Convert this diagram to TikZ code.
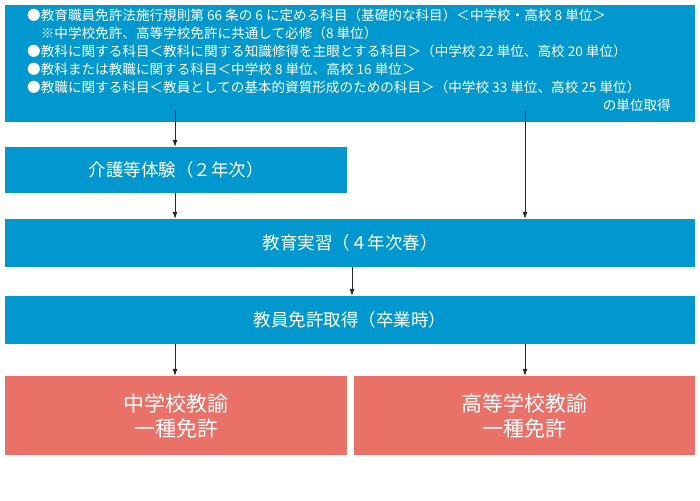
\documentclass[tikz,border=0pt]{standalone}
\usepackage{fontspec}
\setmainfont{Noto Sans CJK JP}
\usetikzlibrary{arrows.meta}
\definecolor{bl}{RGB}{0,152,206}
\definecolor{rd}{RGB}{234,113,104}
\tikzset{
 bbox/.style={fill=bl,text=white,inner sep=0pt},
 rbox/.style={fill=rd,text=white,inner sep=0pt,font=\fontsize{21}{25}\selectfont,align=center},
 arr/.style={-{Latex[length=7pt,width=5pt]},draw=black!85,line width=0.7pt}
}
\begin{document}
\begin{tikzpicture}[x=1pt,y=-1pt]
\useasboundingbox (0,0) rectangle (700,500);
\fill[bl] (5,5) rectangle (695,122);
\node[anchor=north west,text=white,font=\fontsize{13.6}{17.8}\selectfont,align=left,inner sep=0pt] (t) at (27,9) {●教育職員免許法施行規則第 66 条の 6 に定める科目（基礎的な科目）＜中学校・高校 8 単位＞\\
\hspace*{1em}※中学校免許、高等学校免許に共通して必修（8 単位）\\
●教科に関する科目＜教科に関する知識修得を主眼とする科目＞（中学校 22 単位、高校 20 単位）\\
●教科または教職に関する科目＜中学校 8 単位、高校 16 単位＞\\
●教職に関する科目＜教員としての基本的資質形成のための科目＞（中学校 33 単位、高校 25 単位）};
\node[anchor=north east,text=white,font=\fontsize{13.6}{17}\selectfont,inner sep=0pt] (t2) at (671,99) {の単位取得};
\node[bbox,minimum width=342pt,minimum height=46pt,font=\fontsize{17.5}{20}\selectfont] (b2) at (176,170) {介護等体験（２年次）};
\node[bbox,minimum width=690pt,minimum height=48pt,font=\fontsize{17.5}{20}\selectfont] (b3) at (350,243) {教育実習（４年次春）};
\node[bbox,minimum width=690pt,minimum height=48pt,font=\fontsize{17.5}{20}\selectfont] (b4) at (350,320) {教員免許取得（卒業時）};
\node[rbox,minimum width=342pt,minimum height=79pt] (r1) at (176,415.5) {中学校教諭\\一種免許};
\node[rbox,minimum width=341pt,minimum height=79pt] (r2) at (524.5,415.5) {高等学校教諭\\一種免許};
\coordinate (a1) at (175,110);
\coordinate (a2) at (525,110);
\draw[arr] (a1) -- (b2.north -| a1);
\draw[arr] (a2) -- (b3.north -| a2);
\draw[arr] (b2.south -| a1) -- (b3.north -| a1);
\draw[arr] (b3.south -| 352,0) -- (b4.north -| 352,0);
\draw[arr] (b4.south -| a1) -- (r1.north -| a1);
\draw[arr] (b4.south -| a2) -- (r2.north -| a2);
\end{tikzpicture}
\end{document}
